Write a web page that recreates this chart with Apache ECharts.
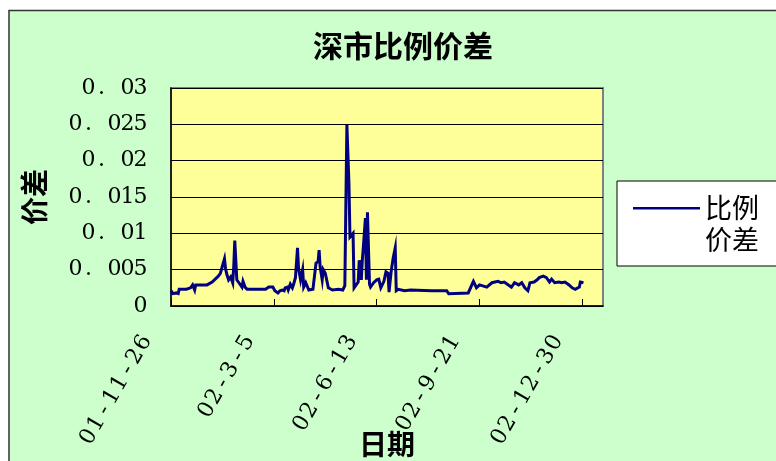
<!DOCTYPE html>
<html>
<head>
<meta charset="utf-8">
<script src="https://cdn.jsdelivr.net/npm/echarts@6/dist/echarts.min.js"></script>
<style>
  html, body { margin: 0; padding: 0; background: #fff; overflow: hidden; }
  #chart { width: 776px; height: 461px; }
</style>
</head>
<body>
<div id="chart"></div>
<script>
// Trading-day index (0 = 01-11-26) and the Shenzhen ratio spread at that day
const dayIndex = [
  0, 2, 5, 7, 8, 15, 19, 21, 22, 23, 24, 35, 40, 43, 46, 48, 50, 52, 53, 54,
  56, 58, 60, 61, 62, 64, 66, 67, 69, 70, 72, 74, 92, 95, 99, 101, 104, 106, 108, 110,
  111, 113, 114, 116, 118, 119, 121, 123, 124, 126, 128, 129, 131, 134, 138, 141, 143, 144, 145, 147,
  148, 150, 153, 157, 163, 167, 169, 170, 171, 173, 174, 177, 178, 180, 182, 183, 185, 186, 187, 189,
  190, 191, 192, 193, 194, 197, 200, 202, 204, 207, 209, 211, 212, 214, 216, 218, 219, 221, 227, 233,
  253, 268, 270, 289, 294, 297, 300, 307, 312, 318, 321, 324, 328, 331, 334, 338, 341, 344, 347, 349,
  353, 356, 358, 362, 365, 368, 370, 373, 377, 380, 383, 387, 390, 393, 397, 398, 401
];
const spread = [
  0.0021, 0.0017, 0.0018, 0.0017, 0.0023, 0.0023, 0.0025, 0.0029, 0.0028, 0.0022, 0.0029, 0.0029, 0.0033, 0.0037, 0.0041, 0.0045, 0.0055, 0.0065, 0.0052, 0.0045,
  0.0036, 0.0040, 0.0032, 0.0054, 0.0090, 0.0036, 0.0032, 0.0033, 0.0026, 0.0034, 0.0026, 0.0023, 0.0023, 0.0026, 0.0026, 0.0021, 0.0018, 0.0021, 0.0022, 0.0021,
  0.0025, 0.0026, 0.0022, 0.0030, 0.0025, 0.0029, 0.0039, 0.0080, 0.0052, 0.0036, 0.0050, 0.0026, 0.0032, 0.0022, 0.0023, 0.0059, 0.0061, 0.0077, 0.0054, 0.0036,
  0.0050, 0.0045, 0.0025, 0.0022, 0.0023, 0.0022, 0.0028, 0.0026, 0.0249, 0.0169, 0.0095, 0.0100, 0.0025, 0.0029, 0.0033, 0.0063, 0.0036, 0.0063, 0.0081, 0.0121,
  0.0036, 0.0129, 0.0129, 0.0030, 0.0026, 0.0032, 0.0036, 0.0037, 0.0025, 0.0034, 0.0047, 0.0045, 0.0019, 0.0047, 0.0066, 0.0080, 0.0021, 0.0023, 0.0021, 0.0022,
  0.0021, 0.0021, 0.0017, 0.0018, 0.0034, 0.0025, 0.0029, 0.0026, 0.0032, 0.0034, 0.0032, 0.0033, 0.0029, 0.0026, 0.0032, 0.0029, 0.0032, 0.0025, 0.0021, 0.0032,
  0.0033, 0.0036, 0.0039, 0.0041, 0.0039, 0.0033, 0.0037, 0.0032, 0.0033, 0.0032, 0.0033, 0.0029, 0.0025, 0.0023, 0.0026, 0.0033, 0.0032
];
const xTickLabels = ['01-11-26', '02-3-5', '02-6-13', '02-9-21', '02-12-30'];
const yTickLabels = ['0', '0. 005', '0. 01', '0. 015', '0. 02', '0. 025', '0. 03'];
const seriesName = '比例价差';

const points = dayIndex.map((d, i) => [d, spread[i]]);

// Lay each character in its own fixed-width cell so numbers read like a monospaced serif face
const cells = s => s.split('').map(ch => '{c|' + ch + '}').join('');

const chart = echarts.init(document.getElementById('chart'));
chart.setOption({
  animation: false,
  backgroundColor: '#ffffff',
  graphic: [{
    type: 'rect',
    z: -10,
    silent: true,
    shape: { x: 9, y: 10.5, width: 820, height: 500 },
    style: { fill: '#CCFFCC', stroke: '#333333', lineWidth: 1.5 }
  }],
  title: {
    text: '深市比例价差',
    left: 398,
    top: 26,
    textAlign: 'center',
    textStyle: { fontFamily: 'Noto Sans CJK SC', fontSize: 30, fontWeight: 'bold', color: '#000' }
  },
  legend: {
    left: 617,
    top: 181,
    orient: 'vertical',
    backgroundColor: '#ffffff',
    borderColor: '#000000',
    borderWidth: 1,
    borderRadius: 0,
    padding: [11, 60, 10, 16],
    itemWidth: 67,
    itemHeight: 64,
    itemGap: 0,
    formatter: () => '比例\n价差',
    textStyle: { fontFamily: 'Noto Sans CJK SC', fontSize: 27, color: '#000', lineHeight: 32 },
    data: [{
      name: seriesName,
      icon: 'path://M0,0 L0.01,0 L0,0.01 Z M0,15 L67,15 L67,17.5 L0,17.5 Z M0,64 L0.01,64 L0,63.99 Z'
    }]
  },
  grid: {
    left: 171, right: 173, top: 88, bottom: 155,
    containLabel: false,
    outerBoundsMode: 'none',
    show: true,
    backgroundColor: '#FFFF99',
    borderColor: '#808080',
    borderWidth: 2
  },
  xAxis: {
    type: 'value',
    min: 0,
    max: 420,
    interval: 100,
    name: '日期',
    nameLocation: 'middle',
    nameGap: 124,
    nameMoveOverlap: false,
    nameTextStyle: { fontFamily: 'Noto Sans CJK SC', fontSize: 28, fontWeight: 'bold', color: '#000' },
    axisLine: { show: true, lineStyle: { color: '#000', width: 1.5 } },
    axisTick: { show: true, inside: true, length: 7, lineStyle: { color: '#000' } },
    splitLine: { show: false },
    axisLabel: {
      rotate: 60,
      margin: 5,
      padding: [0, 34, 16, 0],
      color: '#000',
      showMaxLabel: false,
      formatter: v => cells(xTickLabels[Math.round(v / 100)] || ''),
      rich: { c: { width: 15.5, align: 'center', fontFamily: 'DejaVu Serif', fontSize: 22, color: '#000' } }
    }
  },
  yAxis: {
    type: 'value',
    min: 0,
    max: 0.03,
    interval: 0.005,
    name: '价差',
    nameLocation: 'middle',
    nameRotate: 90,
    nameGap: 123,
    nameMoveOverlap: false,
    nameTextStyle: { fontFamily: 'Noto Sans CJK SC', fontSize: 28, fontWeight: 'bold', color: '#000' },
    axisLine: { show: true, lineStyle: { color: '#000', width: 1.5 } },
    axisTick: { show: false },
    splitLine: { show: true, lineStyle: { color: '#000', width: 1 } },
    axisLabel: {
      margin: 24,
      color: '#000',
      formatter: v => cells(yTickLabels[Math.round(v / 0.005)]),
      rich: { c: { width: 13, align: 'center', fontFamily: 'DejaVu Serif', fontSize: 22, color: '#000' } }
    }
  },
  series: [{
    name: seriesName,
    type: 'line',
    data: points,
    symbol: 'none',
    lineStyle: { color: '#000080', width: 3, join: 'miter' },
    itemStyle: { color: '#000080' }
  }]
});
</script>
</body>
</html>
